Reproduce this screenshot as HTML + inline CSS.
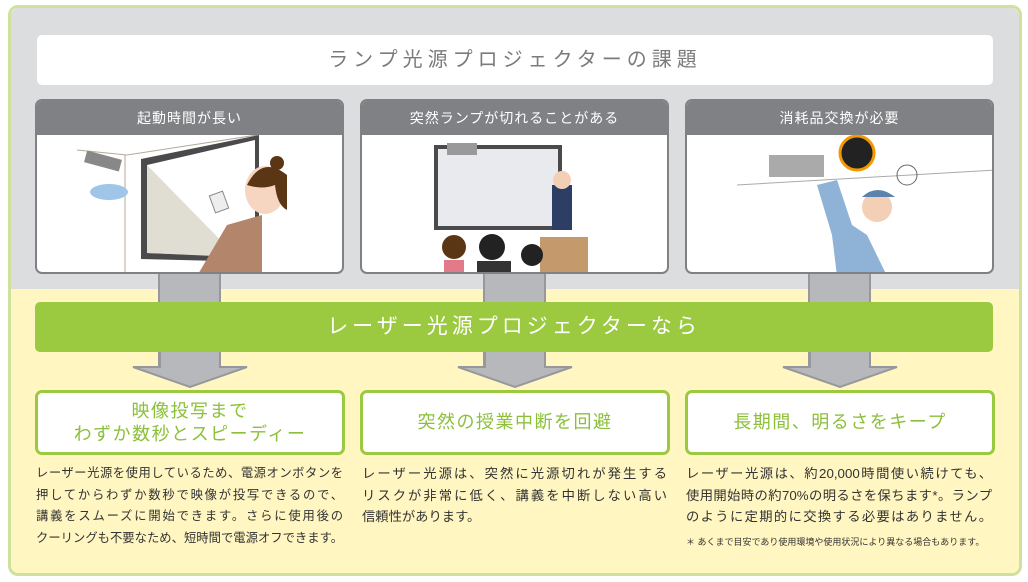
<!DOCTYPE html>
<html><head><meta charset="utf-8"><style>
*{margin:0;padding:0;box-sizing:border-box}
body{width:1028px;height:582px;background:#fff;position:relative;overflow:hidden;font-family:"Liberation Sans","Noto Sans CJK JP",sans-serif}
.a{position:absolute}
.frame{left:8px;top:5px;width:1014px;height:571px;border:3px solid #cfe29c;border-radius:10px;background:#fff6c2;overflow:hidden}
.title{left:37px;top:35px;width:956px;height:50px;background:#fff;border-radius:5px;text-align:center;line-height:50px;font-size:20px;color:#7b7b7d;letter-spacing:5px}
.panel{top:99px;width:309px;height:175px;border:2px solid #808184;border-radius:7px;background:#fff;overflow:hidden}
.ph{height:34px;background:#808184;color:#fff;text-align:center;line-height:34px;font-size:14px;letter-spacing:1px}
.stem{top:272px;width:63px;height:96px;background:#b7b8bc;border-left:2px solid #97989b;border-right:2px solid #97989b}
.bar{left:35px;top:302px;width:958px;height:50px;background:#9bc93f;border-radius:5px;color:#fff;text-align:center;line-height:50px;font-size:21px;letter-spacing:4px}
.res{top:390px;width:310px;height:65px;border:3px solid #9bc93f;border-radius:7px;background:#fff;color:#8cc03a;text-align:center;font-size:18px;display:flex;align-items:center;justify-content:center;line-height:23px;letter-spacing:1.5px}
.txt{top:463px;width:307px;font-size:12.3px;line-height:21.5px;color:#333;white-space:nowrap}
.txt div{text-align:justify;text-align-last:justify;letter-spacing:0}
.txt div.l{text-align-last:left}
</style></head><body>
<div class="a frame"></div>
<div class="a" style="left:11px;top:8px;width:1008px;height:281px;background:#dcdddf;border-radius:8px 8px 0 0"></div>
<div class="a title">ランプ光源プロジェクターの課題</div>

<div class="a stem" style="left:158px"></div>
<div class="a stem" style="left:483px"></div>
<div class="a stem" style="left:808px"></div>

<div class="a panel" style="left:35px"><div class="ph">起動時間が長い</div>
<svg width="309" height="141" style="display:block">
<line x1="40" y1="15" x2="90" y2="20" stroke="#b5aa98"/><line x1="90" y1="20" x2="220" y2="0" stroke="#b5aa98"/><line x1="88" y1="20" x2="88" y2="141" stroke="#b5aa98"/>
<rect x="48" y="20" width="36" height="12" fill="#888" transform="rotate(15 66 26)"/>
<ellipse cx="72" cy="57" rx="19" ry="8" fill="#9fc5e8"/>
<polygon points="104,24 222,0 222,127 104,124" fill="#4a4a4c"/><polygon points="110,30 218,5 218,122 110,118" fill="#fff"/><polygon points="110,30 200,122 110,118" fill="#e0ddd2"/>
<path d="M160 141 L190 90 L225 80 L225 141Z" fill="#b3856a"/>
<ellipse cx="228" cy="55" rx="20" ry="24" fill="#f6d6c0"/><path d="M210 50 Q225 20 250 40 L250 75 Q240 70 238 50 Q225 55 210 50Z" fill="#5a3615"/><circle cx="240" cy="28" r="7" fill="#5a3615"/>
<rect x="175" y="58" width="14" height="18" fill="#eee" stroke="#888" transform="rotate(-20 182 67)"/>
</svg></div>

<div class="a panel" style="left:360px"><div class="ph">突然ランプが切れることがある</div>
<svg width="309" height="141" style="display:block">
<rect x="72" y="10" width="128" height="85" fill="#4a4a4c"/><rect x="76" y="14" width="120" height="77" fill="#e8eaee"/>
<rect x="85" y="8" width="30" height="12" fill="#999"/>
<rect x="178" y="102" width="48" height="39" fill="#c49a6c"/>
<rect x="190" y="50" width="20" height="45" fill="#2c3e63"/><circle cx="200" cy="45" r="9" fill="#f3cfb5"/>
<circle cx="92" cy="112" r="12" fill="#5a3615"/><rect x="82" y="125" width="20" height="16" fill="#e27a8a"/>
<circle cx="130" cy="112" r="13" fill="#222"/><rect x="115" y="126" width="34" height="15" fill="#333"/>
<circle cx="170" cy="120" r="11" fill="#222"/>
</svg></div>

<div class="a panel" style="left:685px"><div class="ph">消耗品交換が必要</div>
<svg width="309" height="141" style="display:block">
<line x1="50" y1="50" x2="309" y2="35" stroke="#aaa"/>
<rect x="82" y="20" width="55" height="22" fill="#aaa"/>
<circle cx="170" cy="18" r="17" fill="#222" stroke="#f39800" stroke-width="3"/>
<path d="M130 50 L150 45 L165 90 L180 100 L200 141 L150 141 L145 100Z" fill="#8fb3d6"/>
<circle cx="190" cy="72" r="15" fill="#f3cfb5"/><path d="M175 62 Q190 48 208 62Z" fill="#5c83ad"/>
<circle cx="220" cy="40" r="10" fill="none" stroke="#666"/>
</svg></div>

<div class="a bar">レーザー光源プロジェクターなら</div>

<svg class="a" style="left:0;top:352px" width="1028" height="40">
<g fill="#b7b8bc" stroke="#97989b" stroke-width="2">
<path d="M160 0 V15 H133 L190 35 L247 15 H220 V0"/>
<path d="M485 0 V15 H458 L515 35 L572 15 H545 V0"/>
<path d="M810 0 V15 H783 L840 35 L897 15 H870 V0"/>
</g></svg>

<div class="a res" style="left:35px">映像投写まで<br>わずか数秒とスピーディー</div>
<div class="a res" style="left:360px">突然の授業中断を回避</div>
<div class="a res" style="left:685px">長期間、明るさをキープ</div>

<div class="a txt" style="left:36px"><div>レーザー光源を使用しているため、電源オンボタンを</div><div>押してからわずか数秒で映像が投写できるので、</div><div>講義をスムーズに開始できます。さらに使用後の</div><div>クーリングも不要なため、短時間で電源オフできます。</div></div>
<div class="a txt" style="left:362px;width:305px;font-size:13.3px"><div>レーザー光源は、突然に光源切れが発生する</div><div>リスクが非常に低く、講義を中断しない高い</div><div class="l">信頼性があります。</div></div>
<div class="a txt" style="left:686px;width:306px;font-size:13.3px"><div>レーザー光源は、約20,000時間使い続けても、</div><div>使用開始時の約70%の明るさを保ちます*。ランプ</div><div>のように定期的に交換する必要はありません。</div></div>
<div class="a" style="left:686px;top:535px;font-size:9px;color:#333">＊ あくまで目安であり使用環境や使用状況により異なる場合もあります。</div>
</body></html>
